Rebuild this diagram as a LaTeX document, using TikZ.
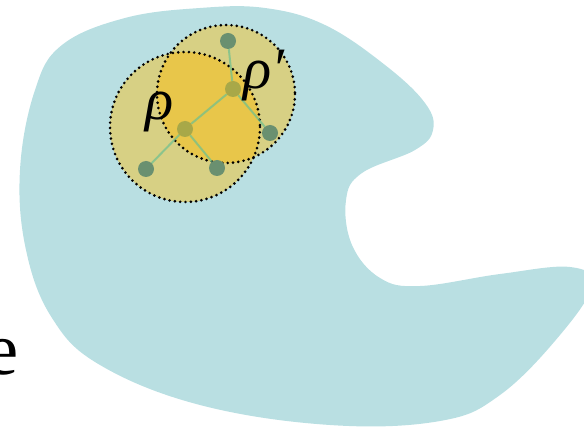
\documentclass[tikz,border=0pt]{standalone}
\usepackage{fontspec}
\setmainfont{Liberation Serif}
\usepackage{tikz}
\usetikzlibrary{positioning}

\definecolor{blobc}{HTML}{B9DFE2}
\definecolor{ballc}{HTML}{D7D084}
\definecolor{overc}{HTML}{E8C64A}
\definecolor{leafc}{HTML}{6A9070}
\definecolor{rootc}{HTML}{A8A848}
\definecolor{edgec}{HTML}{6CC090}

\begin{document}
\begin{tikzpicture}[
    x=0.75pt, y=-0.75pt,
    leaf/.style={circle, fill=leafc, inner sep=0pt, minimum size=12pt},
    root/.style={circle, fill=rootc, inner sep=0pt, minimum size=12pt},
    e/.style={edgec, line width=1.5pt, opacity=0.7},
    rim/.style={black, line width=2.2pt, line cap=round, dash pattern=on 0pt off 4pt},
    lbl/.style={font=\fontsize{44}{48}\selectfont\itshape},
]
\useasboundingbox (0,0) rectangle (584,427);
% blob
\fill[blobc] plot[smooth cycle, tension=0.65] coordinates {
  (265,8) (325,25) (385,65) (425,103) (433,130) (415,150) (362,173) (346,200)
  (352,245) (380,278) (420,286) (500,274) (570,267) (592,285) (560,335)
  (500,395) (440,421) (330,425) (200,405) (100,365) (52,318) (26,250)
  (20,170) (35,90) (62,45) (125,18) (200,8)};
% balls
\coordinate (b1) at (185,127);
\coordinate (b2) at (226,94);
\fill[ballc] (b1) circle (75);
\fill[ballc] (b2) circle (69);
\begin{scope}
  \clip (b1) circle (75);
  \fill[overc] (b2) circle (69);
\end{scope}
\draw[rim] (b1) circle (75);
\draw[rim] (b2) circle (69);
% tree
\node[root] (r1) at (185,129) {};
\node[root] (r2) at (233,89) {};
\node[leaf] (a) at (146,169) {};
\node[leaf] (b) at (217,168) {};
\node[leaf] (c) at (228,41) {};
\node[leaf] (d) at (270,133) {};
\draw[e] (r1) -- (a);
\draw[e] (r1) -- (b);
\draw[e] (r1) -- (r2);
\draw[e] (r2) -- (c);
\draw[e] (r2) -- (d);
% labels
\node[lbl] (rho) at (160,112) {ρ};
\node[lbl] (rhop) at (264,76) {ρ′};
\node[font=\fontsize{56}{60}\selectfont, anchor=east] (ee) at (23,357) {e};
\end{tikzpicture}
\end{document}
